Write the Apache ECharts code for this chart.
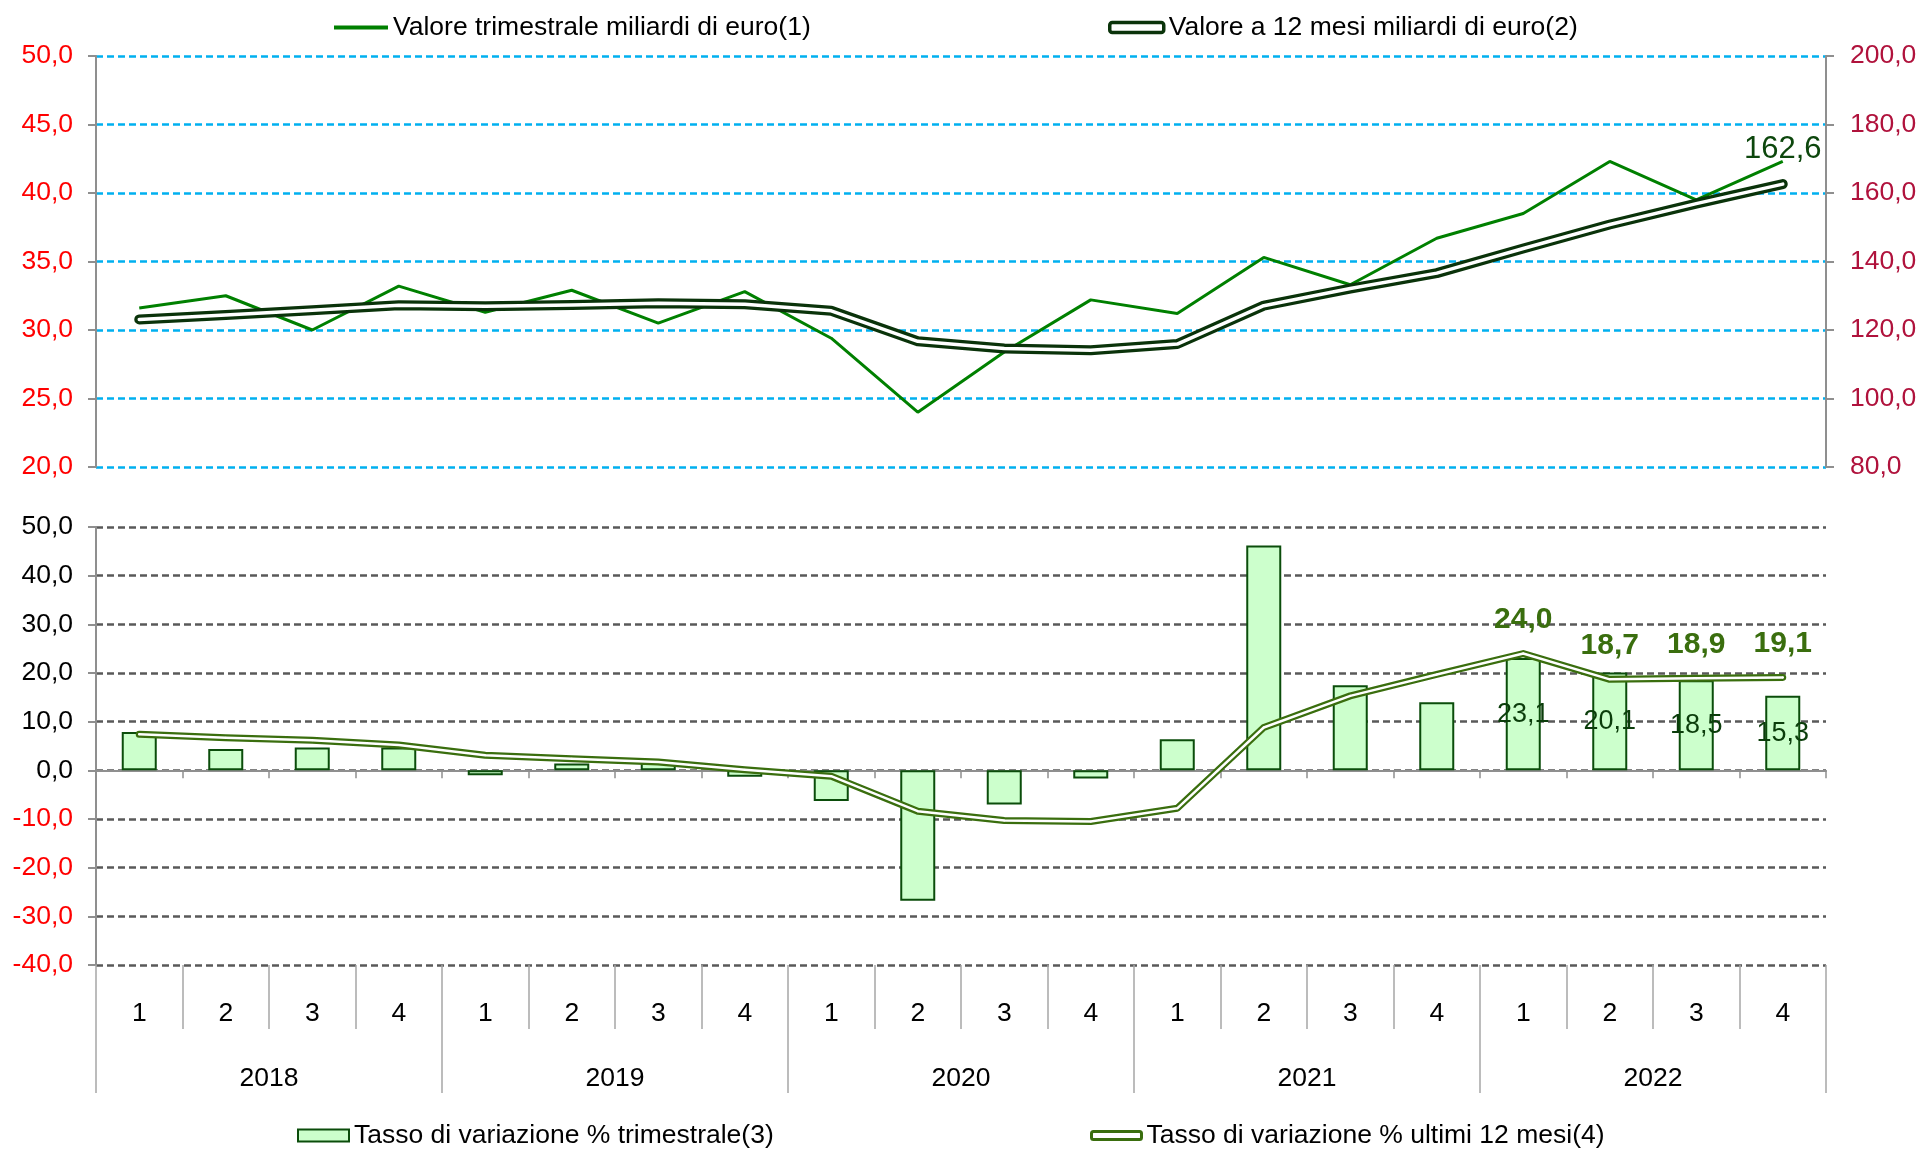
<!DOCTYPE html>
<html lang="it">
<head>
    <meta charset="UTF-8">
    <title>echarts</title>
    <style>
        body { margin: 0; background: #fff; }
    </style>
</head>
<body>
<div id="main" style="width: 1921px;height:1149px;"></div>
<script src="https://cdn.jsdelivr.net/npm/echarts/dist/echarts.min.js"></script>
<script>
    //asse x: trimestri e anni
    let quarters = ['1', '2', '3', '4', '1', '2', '3', '4', '1', '2', '3', '4', '1', '2', '3', '4', '1', '2', '3', '4'];
    let years = ['2018', '2019', '2020', '2021', '2022'];

    //grafico superiore (miliardi di euro)
    let valoreTrimestrale = [31.6, 32.5, 30.0, 33.2, 31.3, 32.9, 30.5, 32.8, 29.4, 24.0, 28.4, 32.2, 31.2, 35.3, 33.3, 36.7, 38.5, 42.3, 39.5, 42.3];
    let valore12Mesi = [123.1, 124.4, 125.8, 127.2, 126.9, 127.3, 127.8, 127.5, 125.6, 116.7, 114.6, 114.1, 115.9, 127.1, 132.1, 136.6, 143.8, 150.8, 156.9, 162.6];

    //grafico inferiore (tassi %)
    let tassoTrimestrale = [7.9, 4.4, 4.7, 4.7, -1.0, 1.4, 1.6, -1.3, -6.3, -26.8, -7.0, -1.7, 6.4, 46.2, 17.5, 14.0, 23.1, 20.1, 18.5, 15.3];
    let tasso12Mesi = [7.4, 6.7, 6.2, 5.2, 3.1, 2.4, 1.7, 0.1, -1.2, -8.4, -10.3, -10.5, -7.8, 8.8, 15.3, 19.7, 24.0, 18.7, 18.9, 19.1];

    let seriesNames = ['Valore trimestrale miliardi di euro(1)', 'Valore a 12 mesi miliardi di euro(2)',
        'Tasso di variazione % trimestrale(3)', 'Tasso di variazione % ultimi 12 mesi(4)'];

    let font = 'Liberation Sans, Arial, sans-serif';
    let fs = 26.5;

    //numero con virgola
    function fmt(v) {
        return Number(v).toFixed(1).replace('.', ',');
    }

    function buildChart() {
        let echart = echarts.init(document.getElementById('main'));
        let axisGray = '#8f8f8f';
        let legendText = {fontFamily: font, fontSize: fs, color: '#000'};
        let option = {
            animation: false,
            backgroundColor: '#fff',
            textStyle: {fontFamily: font},
            legend: [
                {
                    left: 334, top: 14, padding: 0, selectedMode: false,
                    itemWidth: 54, itemHeight: 4, textStyle: legendText,
                    data: [{name: seriesNames[0], icon: 'rect', itemStyle: {color: '#008000', borderWidth: 0}}]
                },
                {
                    left: 1108, top: 14, padding: 0, selectedMode: false,
                    itemWidth: 54, itemHeight: 10, textStyle: legendText,
                    data: [{name: seriesNames[1], icon: 'roundRect', itemStyle: {color: '#fff', borderColor: '#0a330a', borderWidth: 3.5}}]
                },
                {
                    left: 297, top: 1122, padding: 0, selectedMode: false,
                    itemWidth: 51, itemHeight: 12, textStyle: legendText,
                    data: [{name: seriesNames[2], icon: 'rect', itemStyle: {color: '#ccffcc', borderColor: '#0b4d0b', borderWidth: 2}}]
                },
                {
                    left: 1090, top: 1122, padding: 0, selectedMode: false,
                    itemWidth: 50, itemHeight: 8, textStyle: legendText,
                    data: [{name: seriesNames[3], icon: 'roundRect', itemStyle: {color: '#fff', borderColor: '#3a6e0e', borderWidth: 3}}]
                }
            ],
            grid: [
                {left: 96, right: 95, top: 56, height: 411},
                {left: 96, right: 95, top: 527, height: 438}
            ],
            xAxis: [
                {
                    gridIndex: 0, type: 'category', data: quarters,
                    axisLine: {show: false}, axisTick: {show: false}, axisLabel: {show: false}
                },
                {
                    //linea dello zero
                    gridIndex: 1, type: 'category', data: quarters, position: 'bottom',
                    axisLine: {show: true, onZero: true, lineStyle: {color: axisGray, width: 2}},
                    axisTick: {show: true, interval: 0, length: 8, lineStyle: {color: axisGray, width: 1.5}},
                    axisLabel: {show: false}
                },
                {
                    //trimestri
                    gridIndex: 1, type: 'category', data: quarters, position: 'bottom',
                    axisLine: {show: false, onZero: false},
                    axisTick: {show: true, interval: 0, length: 64, lineStyle: {color: '#a6a6a6', width: 1.5}},
                    axisLabel: {interval: 0, margin: 35, fontSize: fs, color: '#000', fontFamily: font}
                },
                {
                    //anni
                    gridIndex: 1, type: 'category', data: years, position: 'bottom',
                    axisLine: {show: false, onZero: false},
                    axisTick: {show: true, interval: 0, length: 128, lineStyle: {color: '#a6a6a6', width: 1.5}},
                    axisLabel: {interval: 0, margin: 100, fontSize: fs, color: '#000', fontFamily: font}
                }
            ],
            yAxis: [
                {
                    gridIndex: 0, type: 'value', min: 20, max: 50, interval: 5,
                    axisLine: {show: true, lineStyle: {color: axisGray, width: 2}},
                    axisTick: {show: true, length: 8, lineStyle: {color: axisGray, width: 2}},
                    axisLabel: {margin: 23, fontSize: fs, color: '#ff0000', formatter: fmt, fontFamily: font},
                    splitLine: {lineStyle: {color: '#00b0f0', width: 2.5, type: [7, 4]}}
                },
                {
                    gridIndex: 0, type: 'value', position: 'right', min: 80, max: 200, interval: 20,
                    axisLine: {show: true, lineStyle: {color: axisGray, width: 2}},
                    axisTick: {show: true, length: 8, lineStyle: {color: axisGray, width: 2}},
                    axisLabel: {margin: 24, fontSize: fs, color: '#b0123c', formatter: fmt, fontFamily: font},
                    splitLine: {show: false}
                },
                {
                    gridIndex: 1, type: 'value', min: -40, max: 50, interval: 10,
                    axisLine: {show: true, lineStyle: {color: axisGray, width: 2}},
                    axisTick: {show: true, length: 8, lineStyle: {color: axisGray, width: 2}},
                    axisLabel: {
                        margin: 23, fontSize: fs, formatter: fmt, fontFamily: font,
                        color: function (value) {
                            return Number(value) < 0 ? '#ff0000' : '#000000';
                        }
                    },
                    splitLine: {lineStyle: {color: '#595959', width: 2.5, type: [7, 4]}}
                }
            ],
            series: [
                {
                    name: seriesNames[0], type: 'line', xAxisIndex: 0, yAxisIndex: 0,
                    data: valoreTrimestrale, symbol: 'none', color: '#008000',
                    lineStyle: {color: '#008000', width: 3}
                },
                {
                    name: seriesNames[1], type: 'line', xAxisIndex: 0, yAxisIndex: 1,
                    data: valore12Mesi, symbol: 'none', color: '#0a330a',
                    lineStyle: {color: '#0a330a', width: 10, cap: 'round', join: 'round'}
                },
                {
                    //linea interna bianca (doppia linea), porta l'etichetta finale
                    name: 'valore12MesiInterno', type: 'line', xAxisIndex: 0, yAxisIndex: 1,
                    data: valore12Mesi, symbol: 'circle', symbolSize: 2, showAllSymbol: true,
                    itemStyle: {color: '#ffffff', borderWidth: 0},
                    lineStyle: {color: '#ffffff', width: 3.5, cap: 'round', join: 'round'},
                    label: {
                        show: true, position: 'top', distance: 18, fontSize: 31, color: '#0d470d', fontFamily: font,
                        formatter: function (p) {
                            return p.dataIndex === valore12Mesi.length - 1 ? fmt(p.value) : '';
                        }
                    }
                },
                {
                    name: seriesNames[2], type: 'bar', xAxisIndex: 1, yAxisIndex: 2,
                    data: tassoTrimestrale, barWidth: 35,
                    itemStyle: {color: '#ccffcc', borderColor: '#0b4d0b', borderWidth: 2},
                    label: {
                        show: true, position: 'inside', fontSize: 27, color: '#0b3d0b', fontFamily: font,
                        formatter: function (p) {
                            return p.dataIndex >= 16 ? fmt(p.value) : '';
                        }
                    }
                },
                {
                    name: seriesNames[3], type: 'line', xAxisIndex: 1, yAxisIndex: 2,
                    data: tasso12Mesi, symbol: 'none', color: '#3a6e0e',
                    lineStyle: {color: '#3a6e0e', width: 7, cap: 'round', join: 'round'}
                },
                {
                    name: 'tasso12MesiInterno', type: 'line', xAxisIndex: 1, yAxisIndex: 2,
                    data: tasso12Mesi, symbol: 'circle', symbolSize: 2, showAllSymbol: true,
                    itemStyle: {color: '#ffffff', borderWidth: 0},
                    lineStyle: {color: '#ffffff', width: 2.5, cap: 'round', join: 'round'},
                    label: {
                        show: true, position: 'top', distance: 18, fontSize: 30, fontWeight: 'bold',
                        color: '#3a6e0e', fontFamily: font,
                        formatter: function (p) {
                            return p.dataIndex >= 16 ? fmt(p.value) : '';
                        }
                    }
                }
            ]
        };
        echart.setOption(option);
    }

    buildChart();
</script>
</body>
</html>
